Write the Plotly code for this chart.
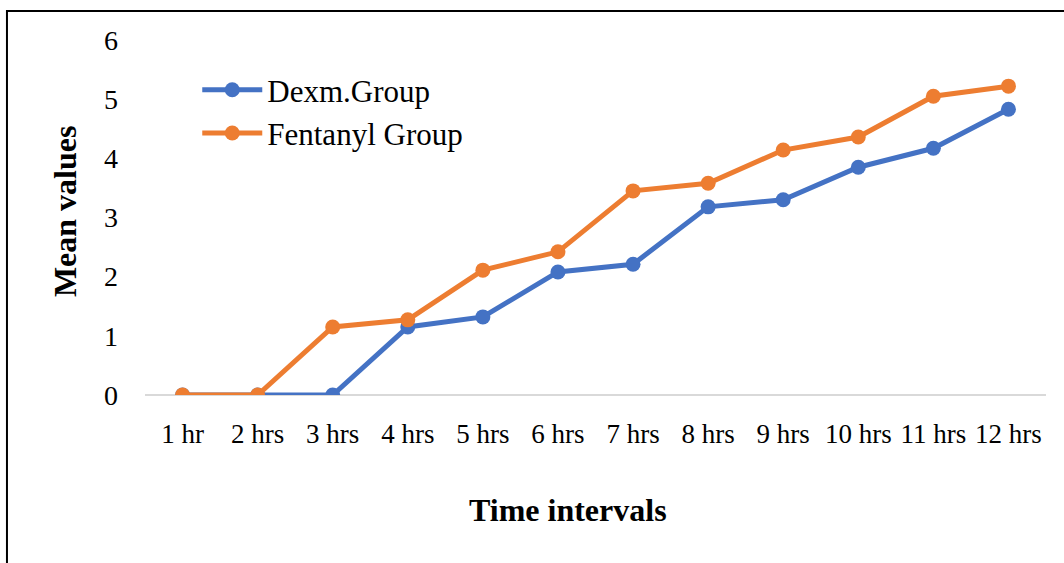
import plotly.graph_objects as go

time_labels = ["1 hr", "2 hrs", "3 hrs", "4 hrs", "5 hrs", "6 hrs",
               "7 hrs", "8 hrs", "9 hrs", "10 hrs", "11 hrs", "12 hrs"]
dexm_values = [0, 0, 0, 1.15, 1.32, 2.08, 2.21, 3.18, 3.30, 3.85, 4.17, 4.83]
fentanyl_values = [0, 0, 1.15, 1.27, 2.11, 2.42, 3.45, 3.58, 4.14, 4.36, 5.05, 5.22]
y_ticks = [0, 1, 2, 3, 4, 5, 6]

FONT = "Liberation Serif, Times New Roman, serif"

fig = go.Figure()
fig.add_trace(go.Scatter(
    x=time_labels, y=dexm_values, name="Dexm.Group", mode="lines+markers",
    line=dict(color="#4472C4", width=5), marker=dict(size=15, color="#4472C4"),
))
fig.add_trace(go.Scatter(
    x=time_labels, y=fentanyl_values, name="Fentanyl Group", mode="lines+markers",
    line=dict(color="#ED7D31", width=5), marker=dict(size=15, color="#ED7D31"),
))

fig.update_layout(
    width=1064, height=563,
    margin=dict(l=145, r=18, t=40, b=168),
    paper_bgcolor="white", plot_bgcolor="white",
    font=dict(family=FONT, color="black"),
    showlegend=True,
    legend=dict(x=0.058, y=0.935, xanchor="left", yanchor="top",
                font=dict(size=31, family=FONT), bgcolor="rgba(0,0,0,0)",
                itemwidth=60),
    xaxis=dict(
        type="category", range=[-0.5, 11.5], showgrid=False, showline=False,
        zeroline=False, ticks="", tickfont=dict(size=27, family=FONT),
        ticklabelstandoff=20,
    ),
    yaxis=dict(
        range=[0, 6], tickvals=y_ticks, showgrid=False, showline=False,
        zeroline=True, zerolinecolor="#d9d9d9", zerolinewidth=2,
        ticks="", tickfont=dict(size=28, family=FONT), ticklabelstandoff=26,
    ),
    annotations=[
        dict(text="<b>Time intervals</b>", xref="paper", yref="paper",
             x=0.4695, y=-0.325, xanchor="center", yanchor="middle",
             showarrow=False, font=dict(size=32, family=FONT)),
        dict(text="<b>Mean values</b>", xref="paper", yref="paper",
             x=-0.0888, y=0.518, xanchor="center", yanchor="middle",
             textangle=-90, showarrow=False, font=dict(size=32, family=FONT)),
    ],
    shapes=[dict(type="rect", xref="paper", yref="paper",
                 x0=-0.1532, x1=1.06, y0=-0.5, y1=1.0817,
                 line=dict(color="black", width=2), fillcolor="rgba(0,0,0,0)",
                 layer="below")],
)

fig.write_html("out.html")
